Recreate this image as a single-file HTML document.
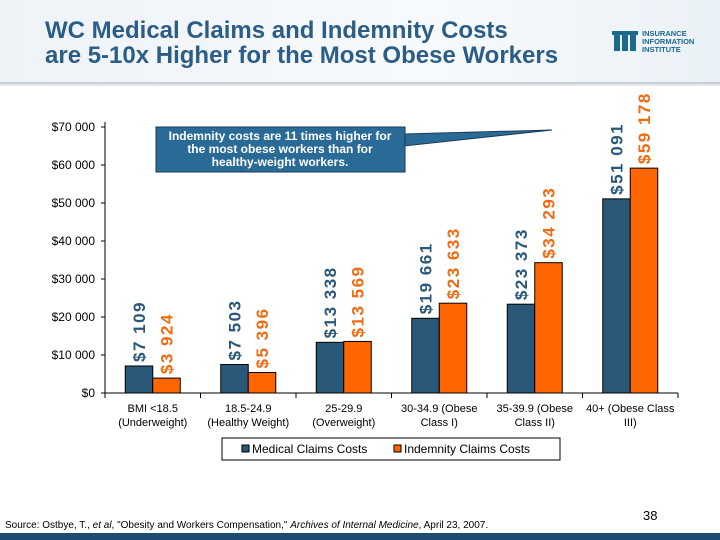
<!DOCTYPE html>
<html><head><meta charset="utf-8"><style>
body{margin:0;width:720px;height:540px;overflow:hidden;font-family:"Liberation Sans",Arial,sans-serif;background:#fff;position:relative}
#hdr{position:absolute;left:0;top:0;width:720px;height:84px;background:linear-gradient(90deg,#eef3f8,#f7fafc 60%,#eaf1f6)}
#hdrline{position:absolute;left:0;top:82px;width:720px;height:4px;background:linear-gradient(180deg,#bfc6cc,#eef0f2)}
#title{position:absolute;left:45px;top:18px;font-size:24px;font-weight:bold;color:#2c5d87;line-height:25px}
#logo{position:absolute;left:612px;top:28px}
#src{position:absolute;left:5px;top:520px;font-size:10px;color:#000}
#pg{position:absolute;left:643px;top:508px;font-size:13px}
#band{position:absolute;left:0;top:533px;width:720px;height:7px;background:#1f4b6e}
</style></head><body>
<div id="hdr"></div>
<div id="hdrline"></div>
<div id="title">WC Medical Claims and Indemnity Costs<br>are 5-10x Higher for the Most Obese Workers</div>
<div id="logo">
<svg width="100" height="26"><g fill="#1d6a8f"><rect x="2" y="3" width="6" height="20"/><rect x="10" y="3" width="6" height="20"/><rect x="18" y="3" width="6" height="20"/><rect x="0" y="3" width="26" height="4"/></g>
<text x="30" y="8" font-size="7.5" font-weight="bold" fill="#1d6a8f" font-family="Liberation Sans">INSURANCE</text>
<text x="30" y="16" font-size="7.5" font-weight="bold" fill="#1d6a8f" font-family="Liberation Sans">INFORMATION</text>
<text x="30" y="24" font-size="7.5" font-weight="bold" fill="#1d6a8f" font-family="Liberation Sans">INSTITUTE</text></svg></div>
<svg id="chart" width="720" height="540" style="position:absolute;left:0;top:0"></svg>
<div id="src">Source: Ostbye, T., <i>et al</i>, "Obesity and Workers Compensation," <i>Archives of Internal Medicine</i>, April 23, 2007.</div>
<div id="pg">38</div>
<div id="band"></div>
<script>
const categories=[["BMI <18.5","(Underweight)"],["18.5-24.9","(Healthy Weight)"],["25-29.9","(Overweight)"],["30-34.9 (Obese","Class I)"],["35-39.9 (Obese","Class II)"],["40+ (Obese Class","III)"]];
const medical=[7109,7503,13338,19661,23373,51091];
const indemnity=[3924,5396,13569,23633,34293,59178];
const medicalLabels=["$7 109","$7 503","$13 338","$19 661","$23 373","$51 091"];
const indemnityLabels=["$3 924","$5 396","$13 569","$23 633","$34 293","$59 178"];
const yTicks=[0,10000,20000,30000,40000,50000,60000,70000];
const yTickLabels=["$0","$10 000","$20 000","$30 000","$40 000","$50 000","$60 000","$70 000"];
const NS="http://www.w3.org/2000/svg",svg=document.getElementById('chart');
const X0=105,X1=678,Y0=393,Y70=127;
const y=v=>Y0-(v/70000)*(Y0-Y70);
const gw=(X1-X0)/categories.length;
const cx=i=>X0+gw*(i+0.5);
function mk(t,a,txt){const e=document.createElementNS(NS,t);for(const k in a)e.setAttribute(k,a[k]);if(txt!=null)e.textContent=txt;svg.appendChild(e);return e;}
let e=mk('line',{x1:X0,y1:Y70-5,x2:X0,y2:Y0,stroke:'#000'});


e=mk('line',{x1:X0,y1:Y0,x2:X1,y2:Y0,stroke:'#000'});


yTicks.forEach((v,i)=>{
 mk('line',{x1:X0-4,y1:y(v),x2:X0,y2:y(v),stroke:'#000'});
 const t=mk('text',{x:95,y:y(v)+4,'text-anchor':'end','font-size':12},yTickLabels[i]);
 
 
});
for(let i=0;i<=categories.length;i++)mk('line',{x1:X0+gw*i,y1:Y0,x2:X0+gw*i,y2:Y0+5,stroke:'#000'});
const bw=27.5;
categories.forEach((c,i)=>{
 let b=mk('rect',{x:cx(i)-bw,y:y(medical[i]),width:bw,height:Y0-y(medical[i]),fill:'#2a5878',stroke:'#000','stroke-width':1});
 
 
 b=mk('rect',{x:cx(i),y:y(indemnity[i]),width:bw,height:Y0-y(indemnity[i]),fill:'#ff6600',stroke:'#000','stroke-width':1});
 
 
 let lx=cx(i)-bw/2+6,ly=y(medical[i])-4;
 let t=mk('text',{x:lx,y:ly,transform:`rotate(-90 ${lx} ${ly})`,'font-size':17,'letter-spacing':1.5,'font-weight':'bold',fill:'#2a5878'},medicalLabels[i]);
 
 
 lx=cx(i)+bw/2+6;ly=y(indemnity[i])-4;
 t=mk('text',{x:lx,y:ly,transform:`rotate(-90 ${lx} ${ly})`,'font-size':17,'letter-spacing':1.5,'font-weight':'bold',fill:'#f26a10'},indemnityLabels[i]);
 
 
 c.forEach((ln,k)=>{const tt=mk('text',{x:cx(i),y:412+k*14,'text-anchor':'middle','font-size':11},ln);
 
 });
});
e=mk('polygon',{points:'404,134 552,130 404,146',fill:'#2a6a96',stroke:'#1a3a55'});


e=mk('rect',{x:156,y:127,width:249,height:45,fill:'#2a6a96',stroke:'#1a3a55'});


["Indemnity costs are 11 times higher for","the most obese workers than for","healthy-weight workers."].forEach((s,k)=>{
 const t=mk('text',{x:280,y:140+k*13,'text-anchor':'middle','font-size':12,'font-weight':'bold',fill:'#fff'},s);
 
 
});
e=mk('rect',{x:222,y:438,width:338,height:22,fill:'#fff',stroke:'#000'});


mk('rect',{x:242,y:445,width:7,height:7,fill:'#2a5878',stroke:'#000'});
e=mk('text',{x:252,y:453,'font-size':12},'Medical Claims Costs');


mk('rect',{x:394,y:445,width:7,height:7,fill:'#ff6600',stroke:'#000'});
e=mk('text',{x:404,y:453,'font-size':12},'Indemnity Claims Costs');


</script>
</body></html>
